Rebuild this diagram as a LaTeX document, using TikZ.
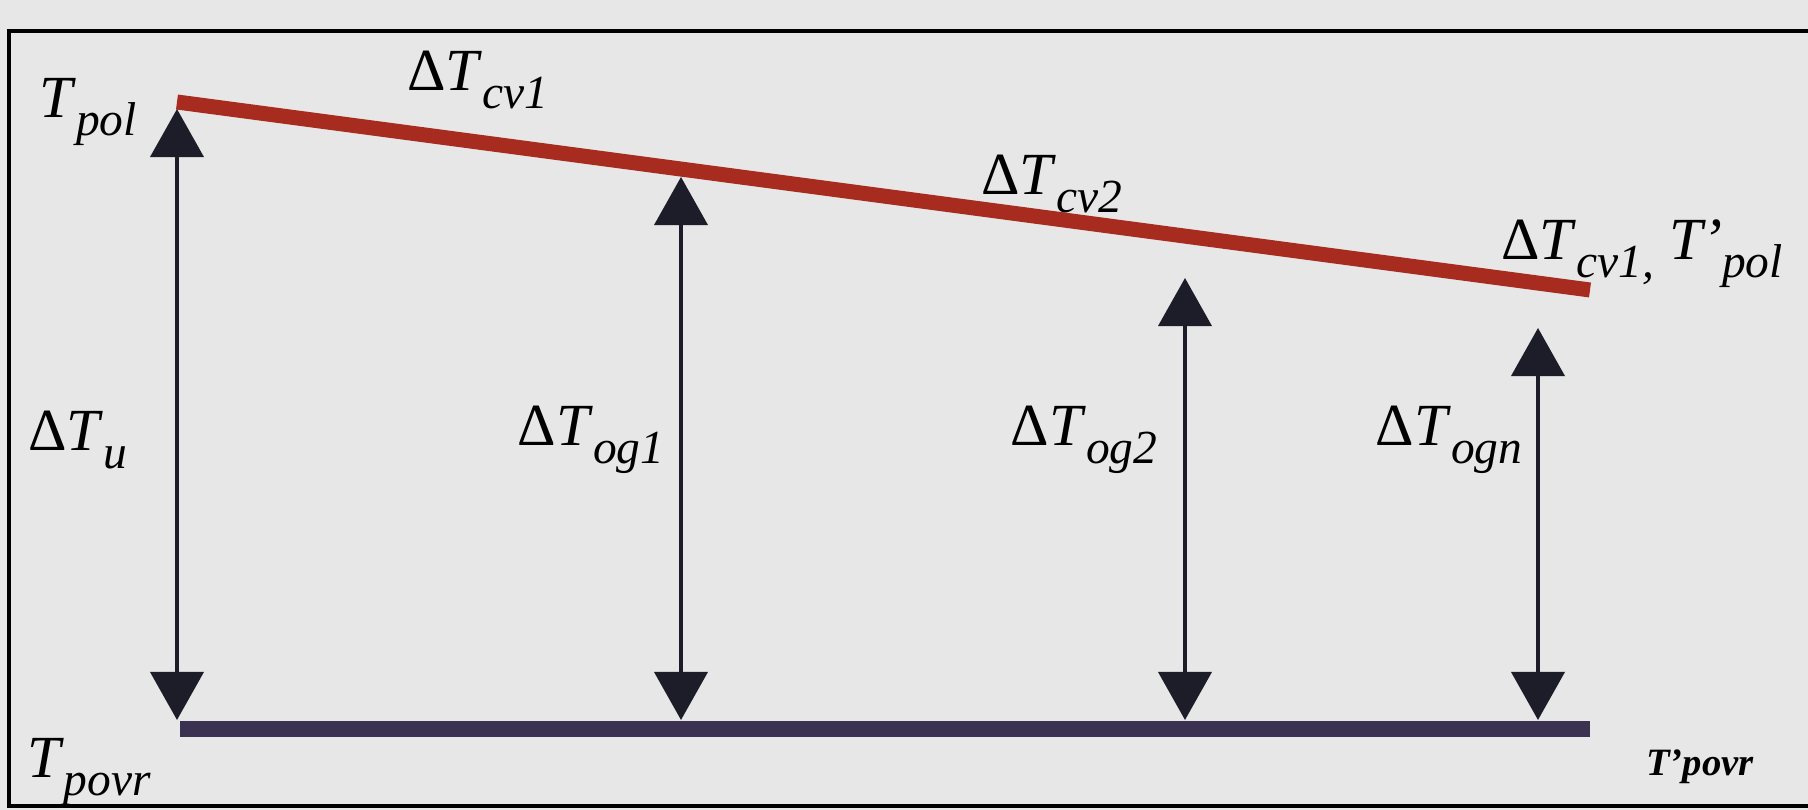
\documentclass[tikz,border=0pt]{standalone}
\usepackage{fontspec}
\setmainfont{Liberation Serif}
\usepackage{tikz}
\usetikzlibrary{arrows.meta}
\definecolor{ScanGray}{HTML}{E7E7E7}
\definecolor{PipeRed}{HTML}{A82B1F}
\definecolor{GroundNavy}{HTML}{3B3150}
\definecolor{ArrowInk}{HTML}{1D1D29}
\newcommand{\tlbl}[2]{\textit{#1}\raisebox{-0.3em}{\fontsize{13.5}{15}\selectfont\itshape #2}}

\begin{document}
\begin{tikzpicture}[x=0.01cm,y=-0.01cm,>={Triangle[length=0.48cm,width=0.53cm]}]
\tikzstyle{lab}=[inner sep=1pt,font=\fontsize{17}{20}\selectfont]
\tikzstyle{gap}=[<->,draw=ArrowInk,fill=ArrowInk,line width=1.1pt]
\fill[ScanGray] (0,0) rectangle (1808,810);
\useasboundingbox (0,0) rectangle (1808,810);
\draw[line width=1.2pt] (1808,31) -- (9,31) -- (9,806) -- (1808,806);
\coordinate (pol) at (177,102);
\coordinate (polend) at (1590,290);
\coordinate (povr) at (180,729);
\coordinate (povrend) at (1590,729);
\draw[PipeRed,line width=0.15cm] (pol) -- (polend);
\draw[GroundNavy,line width=0.16cm] (povr) -- (povrend);
\coordinate (u top) at (177,109);
\coordinate (u bot) at (177,720);
\coordinate (og1 top) at (681,177);
\coordinate (og1 bot) at (681,720);
\coordinate (og2 top) at (1185,278);
\coordinate (og2 bot) at (1185,720);
\coordinate (ogn top) at (1538,328);
\coordinate (ogn bot) at (1538,720);
\draw[gap] (u bot) -- (u top);
\draw[gap] (og1 bot) -- (og1 top);
\draw[gap] (og2 bot) -- (og2 top);
\draw[gap] (ogn bot) -- (ogn top);
\node[lab] (tpol) at (88,112) {\tlbl{T}{pol}};
\node[lab] (dcv1) at (478,80) {Δ\tlbl{T}{cv1}};
\node[lab] (dcv2) at (1052,184) {Δ\tlbl{T}{cv2}};
\node[lab] (dcvn) at (1642,254) {Δ\tlbl{T}{cv1,}\ \tlbl{T'}{pol}};
\node[lab] (du) at (78,440) {Δ\tlbl{T}{u}};
\node[lab] (dog1) at (591,440) {Δ\tlbl{T}{og1}};
\node[lab] (dog2) at (1084,440) {Δ\tlbl{T}{og2}};
\node[lab] (dogn) at (1449,440) {Δ\tlbl{T}{ogn}};
\node[lab] (tpovr) at (89,772) {\tlbl{T}{povr}};
\node[font=\fontsize{11}{13}\selectfont\bfseries\itshape] (tpovrb) at (1700,767) {T'povr};
\end{tikzpicture}
\end{document}
